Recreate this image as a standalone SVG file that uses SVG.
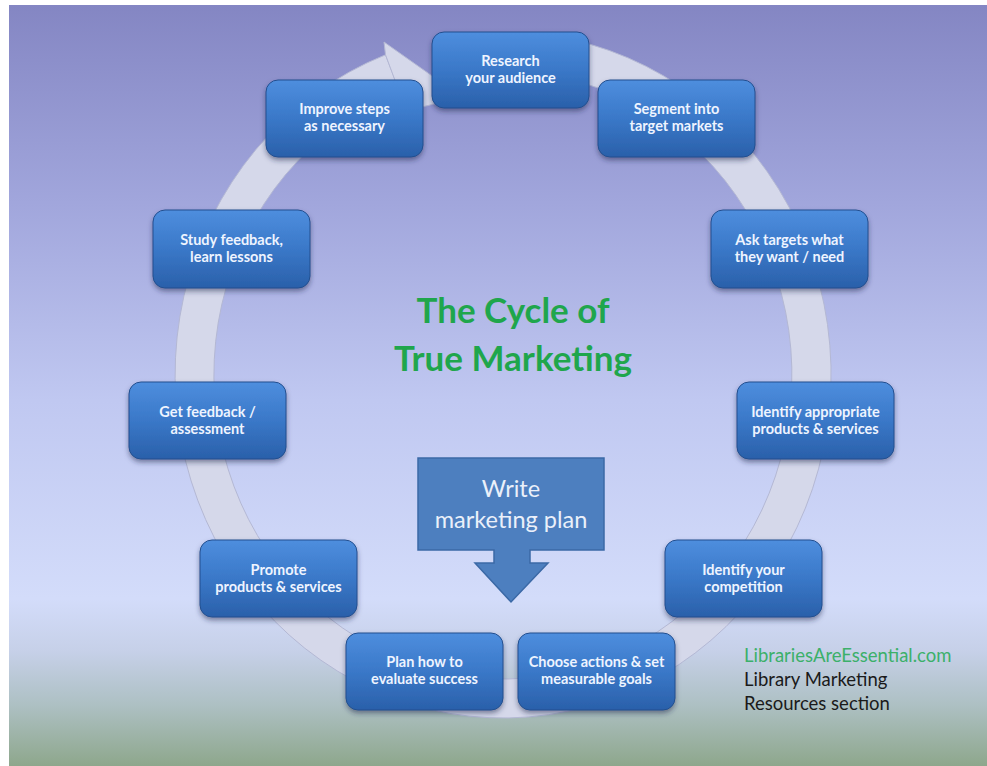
<svg xmlns="http://www.w3.org/2000/svg" width="987" height="766" viewBox="0 0 987 766">
<defs>
<linearGradient id="bg" x1="0" y1="0" x2="0" y2="1">
<stop offset="0" stop-color="#8486c3"/>
<stop offset="0.26" stop-color="#a1a6dc"/>
<stop offset="0.52" stop-color="#c0c8f1"/>
<stop offset="0.78" stop-color="#d3dcfa"/>
<stop offset="0.85" stop-color="#c6d0e8"/>
<stop offset="0.92" stop-color="#adc0c3"/>
<stop offset="1" stop-color="#8ea78c"/>
</linearGradient>
<linearGradient id="box" x1="0" y1="0" x2="0" y2="1">
<stop offset="0" stop-color="#4e8ede"/>
<stop offset="0.5" stop-color="#3a78c8"/>
<stop offset="1" stop-color="#2a60aa"/>
</linearGradient>
<filter id="sh" x="-20%" y="-20%" width="140%" height="150%">
<feDropShadow dx="0" dy="3" stdDeviation="2.5" flood-color="#1a2a50" flood-opacity="0.5"/>
</filter>
<style>
.b{fill:url(#box);stroke:#234f8f;stroke-width:1;filter:url(#sh)}
.t{font-family:Lato,"Open Sans","Liberation Sans",sans-serif;font-weight:bold;font-size:14.5px;fill:#eef4ff;text-anchor:middle}
.ring{fill:#d5d8ea;stroke:#b4b8d4;stroke-width:1}
.title{font-family:Lato,"Open Sans","Liberation Sans",sans-serif;font-weight:bold;font-size:35px;fill:#1fa64c;text-anchor:middle}
.wp{font-family:Lato,"Open Sans","Liberation Sans",sans-serif;font-size:23.5px;fill:#eaf0fa;text-anchor:middle}
.ft{font-family:Lato,"Liberation Sans",sans-serif;font-size:18.5px;fill:#1a1a1a}
</style>
</defs>
<rect x="0" y="0" width="987" height="766" fill="#ffffff"/>
<rect x="9" y="5" width="978" height="761" fill="url(#bg)"/>
<g id="connectors">
<path class="ring" fill-rule="evenodd" d="M531.6,33.3 A328,343 0 1 1 385.5,54.8 L399.4,91.2 A289,304 0 1 0 528.2,72.2 Z"/>
<polygon class="ring" points="384,42 462,97 402,112 399,91 385.5,54.8"/>
</g>
<g id="title">
<text class="title" x="513" y="323">The Cycle of</text>
<text class="title" x="513" y="371">True Marketing</text>
</g>
<g id="write-plan">
<path d="M418,458 H604 V550 H530 V563 H548 L511,602 L475,563 H494 V550 H418 Z" fill="#4d7fbf" stroke="#3b69a6" stroke-width="1.5"/>
<text class="wp" x="511" y="497">Write</text>
<text class="wp" x="511" y="528">marketing plan</text>
</g>
<g id="research"><rect class="b" x="432" y="32" width="157" height="76" rx="12"/><text class="t" x="510.5" y="66">Research</text><text class="t" x="510.5" y="83">your audience</text></g>
<g id="improve"><rect class="b" x="266" y="80" width="157" height="77" rx="12"/><text class="t" x="344.5" y="114">Improve steps</text><text class="t" x="344.5" y="131">as necessary</text></g>
<g id="segment"><rect class="b" x="598" y="80" width="157" height="77" rx="12"/><text class="t" x="676.5" y="114">Segment into</text><text class="t" x="676.5" y="131">target markets</text></g>
<g id="ask"><rect class="b" x="711" y="210" width="157" height="78" rx="12"/><text class="t" x="789.5" y="245">Ask targets what</text><text class="t" x="789.5" y="262">they want / need</text></g>
<g id="study"><rect class="b" x="153" y="210" width="157" height="78" rx="12"/><text class="t" x="231.5" y="245">Study feedback,</text><text class="t" x="231.5" y="262">learn lessons</text></g>
<g id="identify-products"><rect class="b" x="737" y="382" width="157" height="77" rx="12"/><text class="t" x="815.5" y="417">Identify appropriate</text><text class="t" x="815.5" y="434">products &amp; services</text></g>
<g id="get-feedback"><rect class="b" x="129" y="382" width="157" height="77" rx="12"/><text class="t" x="207.5" y="417">Get feedback /</text><text class="t" x="207.5" y="434">assessment</text></g>
<g id="identify-competition"><rect class="b" x="665" y="540" width="157" height="77" rx="12"/><text class="t" x="743.5" y="575">Identify your</text><text class="t" x="743.5" y="592">competition</text></g>
<g id="promote"><rect class="b" x="200" y="540" width="157" height="77" rx="12"/><text class="t" x="278.5" y="575">Promote</text><text class="t" x="278.5" y="592">products &amp; services</text></g>
<g id="plan"><rect class="b" x="346" y="633" width="157" height="77" rx="12"/><text class="t" x="424.5" y="667">Plan how to</text><text class="t" x="424.5" y="684">evaluate success</text></g>
<g id="choose"><rect class="b" x="518" y="633" width="157" height="77" rx="12"/><text class="t" x="596.5" y="667">Choose actions &amp; set</text><text class="t" x="596.5" y="684">measurable goals</text></g>
<g id="footer">
<text class="ft" x="744" y="662" style="fill:#3cb06a">LibrariesAreEssential.com</text>
<text class="ft" x="744" y="686">Library Marketing</text>
<text class="ft" x="744" y="710">Resources section</text>
</g>
</svg>
